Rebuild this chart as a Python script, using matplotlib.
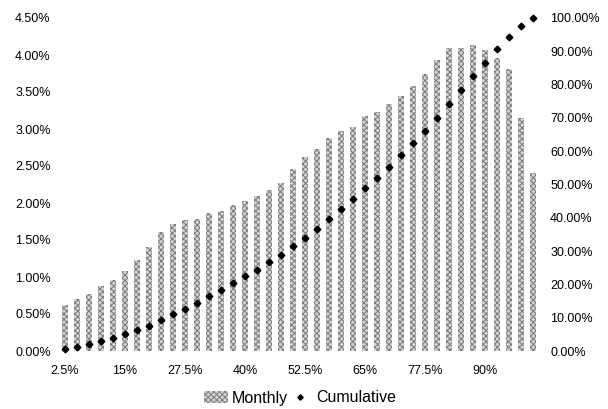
import matplotlib
matplotlib.use("Agg")
import matplotlib.pyplot as plt
from matplotlib.ticker import FuncFormatter, MultipleLocator

plt.rcParams['font.family'] = ['Liberation Sans', 'DejaVu Sans']
plt.rcParams['hatch.linewidth'] = 0.7

categories = ["2.5%", "5%", "7.5%", "10%", "12.5%", "15%", "17.5%", "20%",
              "22.5%", "25%", "27.5%", "30%", "32.5%", "35%", "37.5%", "40%",
              "42.5%", "45%", "47.5%", "50%", "52.5%", "55%", "57.5%", "60%",
              "62.5%", "65%", "67.5%", "70%", "72.5%", "75%", "77.5%", "80%",
              "82.5%", "85%", "87.5%", "90%", "92.5%", "95%", "97.5%", "100%"]

monthly = [0.62, 0.70, 0.77, 0.88, 0.96, 1.08, 1.23, 1.40, 1.61, 1.71,
           1.77, 1.78, 1.87, 1.89, 1.97, 2.03, 2.09, 2.18, 2.27, 2.46,
           2.62, 2.73, 2.88, 2.97, 3.03, 3.18, 3.23, 3.34, 3.45, 3.58,
           3.74, 3.93, 4.09, 4.09, 4.14, 4.07, 3.96, 3.81, 3.15, 2.40]

cumulative = [0.6, 1.3, 2.1, 3.0, 3.9, 5.0, 6.2, 7.6, 9.3, 11.0,
              12.7, 14.5, 16.4, 18.3, 20.3, 22.4, 24.4, 26.6, 28.9, 31.4,
              34.0, 36.7, 39.6, 42.6, 45.6, 48.8, 52.0, 55.4, 58.8, 62.4,
              66.2, 70.1, 74.3, 78.4, 82.5, 86.6, 90.6, 94.4, 97.6, 100.0]

shown_labels = ["2.5%", "15%", "27.5%", "40%", "52.5%", "65%", "77.5%", "90%"]

fig = plt.figure(figsize=(6.08, 4.09), dpi=100)
ax = fig.add_axes([59 / 608, 58 / 409, 480 / 608, 333 / 409])
ax2 = ax.twinx()

x = list(range(len(categories)))
bars = ax.bar(x, monthly, width=0.55, facecolor='#d4d4d4', edgecolor='#7a7a7a',
              linewidth=0, hatch='xxxxxx', label='Monthly', zorder=2)
line, = ax2.plot(x, cumulative, linestyle='none', marker='D', markersize=3.4,
                 color='black', label='Cumulative', zorder=3, clip_on=False)

ax.set_xlim(-0.5, len(categories) - 0.5)
ax.set_ylim(0, 4.5)
ax2.set_ylim(0, 100)
ax.yaxis.set_major_locator(MultipleLocator(0.5))
ax2.yaxis.set_major_locator(MultipleLocator(10))
ax.yaxis.set_major_formatter(FuncFormatter(lambda v, p: f"{v:.2f}%"))
ax2.yaxis.set_major_formatter(FuncFormatter(lambda v, p: f"{v:.2f}%"))

pos = [categories.index(l) for l in shown_labels]
ax.set_xticks(pos)
ax.set_xticklabels(shown_labels)

for a in (ax, ax2):
    for s in a.spines.values():
        s.set_visible(False)
    a.tick_params(length=0, labelsize=9, colors='black')
ax.tick_params(axis='y', pad=6)
ax2.tick_params(axis='y', pad=8)
ax.tick_params(axis='x', pad=10)

ax.set_zorder(ax2.get_zorder() - 1)
ax2.patch.set_visible(False)

fig.legend([bars, line], ['Monthly', 'Cumulative'], loc='center',
           bbox_to_anchor=(300 / 608, 11 / 409), ncol=2, frameon=False,
           fontsize=11.5, handlelength=1.5, handleheight=0.7, columnspacing=0.0,
           handletextpad=0.25, markerscale=0.8)

fig.savefig("out.png", dpi=100)
